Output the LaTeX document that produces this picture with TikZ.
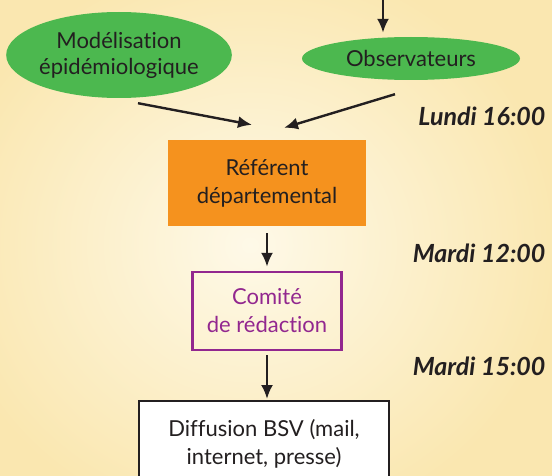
\documentclass[tikz,border=0pt]{standalone}
\usepackage{fontspec}
\setmainfont{Lato}[RawFeature=-liga]
\usetikzlibrary{shapes.geometric,arrows.meta,calc}
\definecolor{ink}{HTML}{231F20}
\definecolor{leaf}{HTML}{4CB84F}
\definecolor{amber}{HTML}{F5921E}
\definecolor{plum}{HTML}{92278F}
\definecolor{paperin}{HTML}{FEF9E8}
\definecolor{paperout}{HTML}{FAE7B0}
\begin{document}
\begin{tikzpicture}[x=1pt,y=1pt,
    every node/.style={text=ink,align=center,font=\fontsize{22}{26}\selectfont},
    bubble/.style={ellipse,fill=leaf,inner sep=0pt},
    stepbox/.style={rectangle,inner sep=0pt},
    flow/.style={draw=ink,line width=2.4pt,-{Latex[length=14pt,width=12pt]}},
    day/.style={anchor=east,font=\fontsize{25}{28}\selectfont\bfseries\itshape}]
      \clip (0,0) rectangle (552,475);
      \shade[inner color=paperin,outer color=paperout] (-60,-60) rectangle (560,520);
      \coordinate (top) at (383,475);
      \node[bubble,minimum width=218pt,minimum height=86pt] (mod) at (119,420)
        {Modélisation\\épidémiologique};
      \node[bubble,minimum width=218pt,minimum height=43pt] (obs) at (411,416.5)
        {Observateurs};
      \node[stepbox,fill=amber,minimum width=198pt,minimum height=86pt,
        font=\fontsize{22}{28}\selectfont] (ref) at (267,292)
        {Référent\\départemental};
      \node[stepbox,draw=plum,line width=2.4pt,text=plum,minimum width=149pt,
        minimum height=78pt,font=\fontsize{22}{28}\selectfont] (com) at (267,164)
        {Comité\\de rédaction};
      \node[stepbox,draw=ink,fill=white,line width=2.4pt,anchor=north,inner ysep=18pt,
        minimum width=250pt,minimum height=110pt,font=\fontsize{22}{28}\selectfont,
        text depth=50pt] (diff) at (264,75)
        {Diffusion BSV (mail,\\internet, presse)};
      \node[day] (lundi) at (549,359) {Lundi 16:00};
      \node[day] (mardia) at (549,222) {Mardi 12:00};
      \node[day] (mardib) at (549,109) {Mardi 15:00};
      \begin{scope}[flow]
        \draw (top) -- ([yshift=4pt]obs.north -| top);
        \draw ([shift={(19pt,-5pt)}]mod.south) -- ([shift={(-15pt,15pt)}]ref.north);
        \draw ([shift={(-16pt,-14pt)}]obs.south) -- ([shift={(17pt,12pt)}]ref.north);
        \draw ([yshift=-7pt]ref.south) -- ([yshift=4pt]com.north);
        \draw ([yshift=-4pt]com.south) -- ([yshift=1pt]diff.north -| com.south);
      \end{scope}
    \end{tikzpicture}
\end{document}
